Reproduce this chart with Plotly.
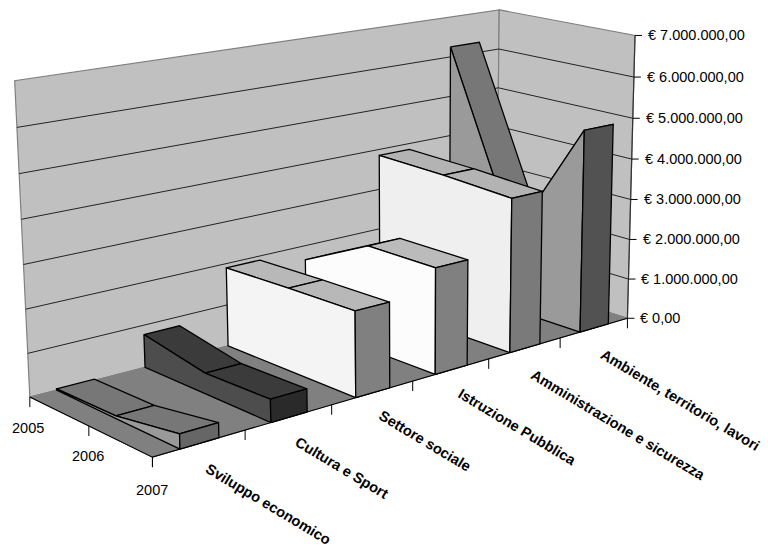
import numpy as np
import plotly.graph_objects as go

# ---- data ----
YEARS = ["2005", "2006", "2007"]
CATEGORIES = ["Sviluppo economico", "Cultura e Sport", "Settore sociale",
              "Istruzione Pubblica", "Amministrazione e sicurezza",
              "Ambiente, territorio, lavori"]
SVILUPPO = [30000, 60000, 330000]
CULTURA = [780000, 480000, 520000]
SETTORE = [1900000, 1950000, 1980000]
ISTRUZIONE = [1650000, 2500000, 2500000]
AMMINISTRAZIONE = [3850000, 3800000, 3700000]
AMBIENTE = [6250000, 1900000, 4950000]
VALUE_TICKS = [0, 1000000, 2000000, 3000000, 4000000, 5000000, 6000000, 7000000]
VALUE_LABELS = ["€ 0,00", "€ 1.000.000,00", "€ 2.000.000,00", "€ 3.000.000,00",
                "€ 4.000.000,00", "€ 5.000.000,00", "€ 6.000.000,00", "€ 7.000.000,00"]
SERIES = [SVILUPPO, CULTURA, SETTORE, ISTRUZIONE, AMMINISTRAZIONE, AMBIENTE]

# ---- styles ----
COLORS = [("#999999", "#777777", "#666666"),
          ("#4d4d4d", "#3b3b3b", "#2a2a2a"),
          ("#f4f4f4", "#b8b8b8", "#808080"),
          ("#fcfcfc", "#bbbbbb", "#808080"),
          ("#efefef", "#b3b3b3", "#7a7a7a"),
          ("#9a9a9a", "#777777", "#525252")]
VMAX = 7000000
SLAB = (0.29, 0.71)
CAMERA_ANCHORS = [(0, 0, 0, 153, 458), (1, 0, 0, 626, 318), (1, 1, 0, 498, 277),
                  (0, 1, 0, 29, 396), (0, 1, 1, 15, 81), (1, 1, 1, 498, 10),
                  (1, 0, 1, 636, 35)]
CAT_LABEL_POS = [(268, 504), (342, 468), (425, 441), (517, 427), (618, 425), (680, 400)]
YEAR_LABEL_POS = [(28, 428), (88, 456), (152, 490)]
FONT = "Liberation Sans, Arial, sans-serif"

# perspective camera fitted to the plot box's corners
rows, rhs = [], []
for u, v, w, x, y in CAMERA_ANCHORS:
    rows.append([u, v, w, 1, 0, 0, 0, 0, -x * u, -x * v, -x * w]); rhs.append(x)
    rows.append([0, 0, 0, 0, u, v, w, 1, -y * u, -y * v, -y * w]); rhs.append(y)
P = np.linalg.lstsq(np.array(rows, float), np.array(rhs, float), rcond=None)[0]


def project(u, v, val):
    w = val / VMAX
    d = P[8] * u + P[9] * v + P[10] * w + 1
    return ((P[0] * u + P[1] * v + P[2] * w + P[3]) / d,
            (P[4] * u + P[5] * v + P[6] * w + P[7]) / d)


fig = go.Figure()


def poly(pts, fill=None, line="#000000", width=1.2, name=None):
    xs = [p[0] for p in pts]
    ys = [p[1] for p in pts]
    kw = dict(fill="toself", fillcolor=fill) if fill else {}
    fig.add_trace(go.Scatter(x=xs, y=ys, mode="lines", name=name, hoverinfo="skip",
                             showlegend=False,
                             line=dict(color=line, width=width, simplify=False), **kw))


# walls and floor
poly([project(0, 1, 0), project(1, 1, 0), project(1, 1, VMAX), project(0, 1, VMAX), project(0, 1, 0)],
     "#c0c0c0", "#808080", 1.2, "back wall")
poly([project(1, 1, 0), project(1, 0, 0), project(1, 0, VMAX), project(1, 1, VMAX), project(1, 1, 0)],
     "#c0c0c0", "#808080", 1.2, "side wall")
poly([project(0, 0, 0), project(1, 0, 0), project(1, 1, 0), project(0, 1, 0), project(0, 0, 0)],
     "#808080", "#808080", 1, "floor")
for t in VALUE_TICKS[1:-1]:
    poly([project(0, 1, t), project(1, 1, t), project(1, 0, t)], None, "#111111", 0.9, "grid")

# value axis
poly([project(1, 0, 0), project(1, 0, VMAX)], None, "#333333", 1.2, "value axis")
for t, lab in zip(VALUE_TICKS, VALUE_LABELS):
    x, y = project(1, 0, t)
    poly([(x, y), (x + 7, y)], None, "#000000", 1)
    fig.add_annotation(x=x + 11, y=y, text=lab, showarrow=False, xanchor="left", yanchor="middle",
                       xref="x", yref="y", font=dict(family=FONT, size=14.5, color="#000000"))

# floor axes
poly([project(0, 1, 0), project(0, 0, 0), project(1, 0, 0)], None, "#000000", 1.1, "axes")
for i in range(len(CATEGORIES) + 1):
    x, y = project(i / len(CATEGORIES), 0, 0)
    poly([(x, y), (x, y + 10)], None, "#000000", 1)
for i in range(len(YEARS)):
    x, y = project(0, 1 - i / (len(YEARS) - 1), 0)
    poly([(x, y), (x, y + 10)], None, "#000000", 1)

# slabs, far to near; top strips go first so the side face hides those tilting away
n = len(CATEGORIES)
vs = [1 - i / (len(YEARS) - 1) for i in range(len(YEARS))]
for i in reversed(range(n)):
    vals = SERIES[i]
    side, top, end = COLORS[i]
    u0, u1 = (i + SLAB[0]) / n, (i + SLAB[1]) / n
    for k in range(len(vs) - 1):
        q = [project(u0, vs[k], vals[k]), project(u1, vs[k], vals[k]),
             project(u1, vs[k + 1], vals[k + 1]), project(u0, vs[k + 1], vals[k + 1]),
             project(u0, vs[k], vals[k])]
        poly(q, top, "#000000", 1.3, CATEGORIES[i])
    left = [project(u0, v, 0) for v in vs][::-1] + [project(u0, v, val) for v, val in zip(vs, vals)]
    poly(left + [left[0]], side, "#000000", 1.3, CATEGORIES[i])
    q = [project(u0, 0, 0), project(u1, 0, 0), project(u1, 0, vals[-1]), project(u0, 0, vals[-1]),
         project(u0, 0, 0)]
    poly(q, end, "#000000", 1.3, CATEGORIES[i])

for lab, (x, y) in zip(CATEGORIES, CAT_LABEL_POS):
    fig.add_annotation(x=x, y=y, text="<b>" + lab + "</b>", showarrow=False, textangle=31,
                       xref="x", yref="y", font=dict(family=FONT, size=14.6, color="#000000"))
for lab, (x, y) in zip(YEARS, YEAR_LABEL_POS):
    fig.add_annotation(x=x, y=y, text=lab, showarrow=False, xref="x", yref="y",
                       font=dict(family=FONT, size=14.5, color="#000000"))

fig.update_layout(width=768, height=549, margin=dict(l=0, r=0, t=0, b=0),
                  paper_bgcolor="#ffffff", plot_bgcolor="#ffffff", showlegend=False,
                  xaxis=dict(range=[0, 768], visible=False, fixedrange=True),
                  yaxis=dict(range=[549, 0], visible=False, fixedrange=True))
fig.write_html("out.html", config={"displayModeBar": False},
               post_script="document.body.style.margin='0';document.body.style.overflow='hidden';")
